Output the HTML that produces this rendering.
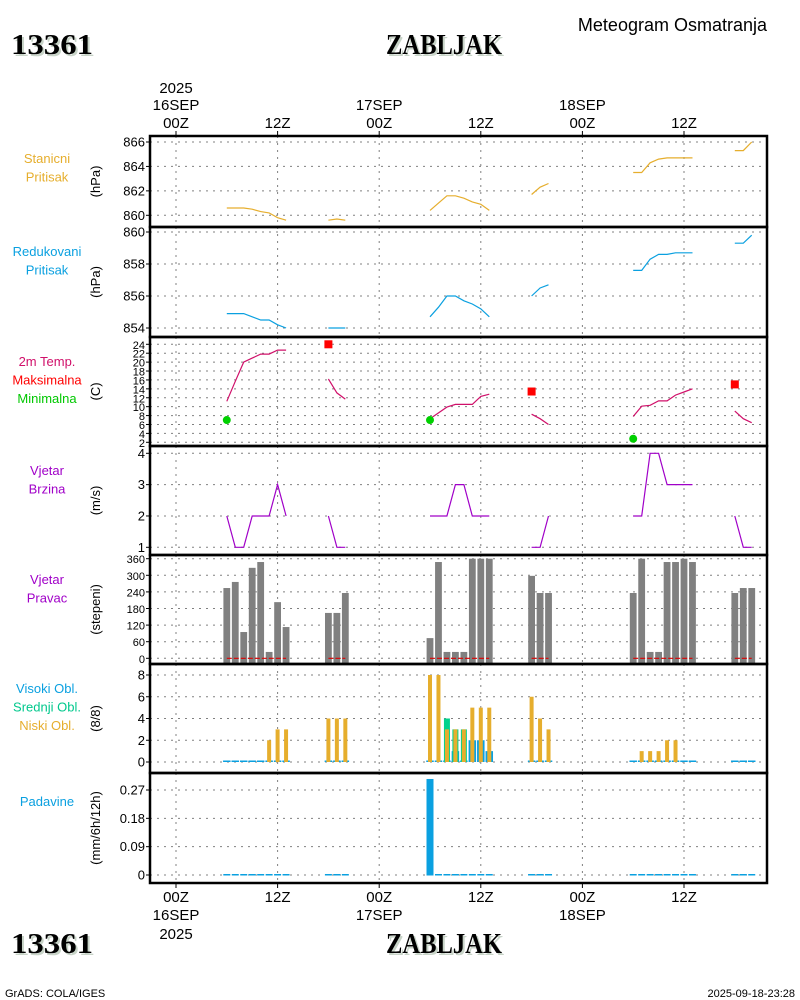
<!DOCTYPE html>
<html><head><meta charset="utf-8"><style>
body{margin:0;background:#fff}
svg{display:block;font-family:"Liberation Sans",sans-serif}
</style></head><body>
<svg id="chart" width="800" height="1000" viewBox="0 0 800 1000">
<g id="static">
<text x="13" y="56" textLength="82" lengthAdjust="spacingAndGlyphs" font-family="Liberation Serif" font-weight="bold" font-size="28" fill="#c8d4c8">13361</text>
<text x="11" y="54" textLength="82" lengthAdjust="spacingAndGlyphs" font-family="Liberation Serif" font-weight="bold" font-size="28" fill="#000">13361</text>
<text x="388" y="56" textLength="116" lengthAdjust="spacingAndGlyphs" font-family="Liberation Serif" font-weight="bold" font-size="28" fill="#c8d4c8">ZABLJAK</text>
<text x="386" y="54" textLength="116" lengthAdjust="spacingAndGlyphs" font-family="Liberation Serif" font-weight="bold" font-size="28" fill="#000">ZABLJAK</text>
<text x="767" y="31" text-anchor="end" font-size="18" fill="#000">Meteogram Osmatranja</text>
<text x="13" y="955" textLength="82" lengthAdjust="spacingAndGlyphs" font-family="Liberation Serif" font-weight="bold" font-size="28" fill="#c8d4c8">13361</text>
<text x="11" y="953" textLength="82" lengthAdjust="spacingAndGlyphs" font-family="Liberation Serif" font-weight="bold" font-size="28" fill="#000">13361</text>
<text x="388" y="955" textLength="116" lengthAdjust="spacingAndGlyphs" font-family="Liberation Serif" font-weight="bold" font-size="28" fill="#c8d4c8">ZABLJAK</text>
<text x="386" y="953" textLength="116" lengthAdjust="spacingAndGlyphs" font-family="Liberation Serif" font-weight="bold" font-size="28" fill="#000">ZABLJAK</text>
<text x="5" y="997" font-size="11" fill="#000">GrADS: COLA/IGES</text>
<text x="795" y="997" text-anchor="end" font-size="11" fill="#000">2025-09-18-23:28</text>
</g>
</svg>
<script>
// ---- data ----
const hours = [6,7,8,9,10,11,12,13, 18,19,20, 30,31,32,33,34,35,36,37, 42,43,44, 54,55,56,57,58,59,60,61, 66,67,68];
const stnPres = [860.6,860.6,860.6,860.5,860.3,860.2,859.8,859.6, 859.6,859.7,859.6, 860.4,861.0,861.6,861.6,861.4,861.1,860.9,860.4, 861.7,862.3,862.6, 863.5,863.5,864.3,864.6,864.7,864.7,864.7,864.7, 865.3,865.3,866.0];
const redPres = [854.9,854.9,854.9,854.7,854.5,854.5,854.2,854.0, 854.0,854.0,854.0, 854.7,855.3,856.0,856.0,855.7,855.5,855.2,854.7, 856.0,856.5,856.7, 857.6,857.6,858.3,858.6,858.6,858.7,858.7,858.7, 859.3,859.3,859.8];
const temp = [11.2,15.7,20.0,20.9,21.8,21.8,22.7,22.7, 16.2,13.1,11.7, 7.3,8.6,9.9,10.5,10.5,10.5,12.3,12.8, 8.3,7.3,6.0, 7.8,10.1,10.3,11.3,11.3,12.6,13.3,14.0, 9.0,7.3,6.4];
const tmaxHours = [18,42,66];
const tmaxVals = [24,13.4,15];
const tminHours = [6,30,54];
const tminVals = [7,7,2.8];
const windSpd = [2,1,1,2,2,2,3,2, 2,1,1, 2,2,2,3,3,2,2,2, 1,1,2, 2,2,4,4,3,3,3,3, 2,1,1];
const windDir = [254,276,95,327,348,23,203,113, 164,164,236, 73,348,23,23,23,360,360,360, 298,236,236, 236,360,23,23,348,348,360,348, 236,254,254];
const cldHigh = [0,0,0,0,0,0,0,0, 0,0,0, 0,0,0,1,0,2,2,1, 0,0,0, 0,0,0,0,0,0,0,0, 0,0,0];
const cldMid  = [0,0,0,0,0,0,0,0, 0,0,0, 0,0,4,3,3,0,0,0, 0,0,0, 0,0,0,0,0,0,0,0, 0,0,0];
const cldLow  = [0,0,0,0,0,2,3,3, 4,4,4, 8,8,3,3,3,5,5,5, 6,4,3, 0,1,1,1,2,2,0,0, 0,0,0];
const precipHours = [30];
const precipVals = [0.305];
const stnTicks = [860,862,864,866];
const redTicks = [854,856,858,860];
const tempTicks = [2,4,6,8,10,12,14,16,18,20,22,24];
const spdTicks = [1,2,3,4];
const dirTicks = [0,60,120,180,240,300,360];
const cldTicks = [0,2,4,6,8];
const prcTicks = [0,0.09,0.18,0.27];
const timeTicks = [0,12,24,36,48,60];
const timeLabels = ["00Z","12Z","00Z","12Z","00Z","12Z"];
const dayLabels = {0:"16SEP",24:"17SEP",48:"18SEP"};

// ---- helpers ----
const NS="http://www.w3.org/2000/svg";
const svg=document.getElementById('chart');
function mk(tag,attrs,parent){const e=document.createElementNS(NS,tag);for(const k in attrs)e.setAttribute(k,attrs[k]);(parent||svg).appendChild(e);return e;}
const L=150,R=767;
const x=h=>176+h*101.6/12;
function lin(v0,y0,v1,y1){return v=>y0+(v-v0)*(y1-y0)/(v1-v0);}
const panels=[
 {top:136,bot:227,y:lin(860,215.3,866,142),ticks:stnTicks,fmt:v=>v,name:'station-pressure',unit:'(hPa)',labels:[['Stanicni','#e6ae2d'],['Pritisak','#e6ae2d']],ly:163},
 {top:227,bot:337,y:lin(854,328,860,232),ticks:redTicks,fmt:v=>v,name:'reduced-pressure',unit:'(hPa)',labels:[['Redukovani','#0aa0e0'],['Pritisak','#0aa0e0']],ly:256},
 {top:337,bot:446,y:lin(2,442.3,24,344.3),ticks:tempTicks,fmt:v=>v,name:'temperature',unit:'(C)',labels:[['2m Temp.','#d0106a'],['Maksimalna','#ff0000'],['Minimalna','#00c800']],ly:366,small:true},
 {top:446,bot:555,y:lin(1,547.3,4,453.3),ticks:spdTicks,fmt:v=>v,name:'wind-speed',unit:'(m/s)',labels:[['Vjetar','#a000c8'],['Brzina','#a000c8']],ly:475},
 {top:555,bot:664,y:lin(0,658.3,360,558.7),ticks:dirTicks,fmt:v=>v,name:'wind-direction',unit:'(stepeni)',labels:[['Vjetar','#a000c8'],['Pravac','#a000c8']],ly:584,small:true},
 {top:664,bot:773,y:lin(0,762,8,675),ticks:cldTicks,fmt:v=>v,name:'cloud-cover',unit:'(8/8)',labels:[['Visoki Obl.','#0aa0e0'],['Srednji Obl.','#00c88c'],['Niski Obl.','#e6ae2d']],ly:693},
 {top:773,bot:883,y:lin(0,875,0.27,790),ticks:prcTicks,fmt:v=>v===0?'0':v.toFixed(2),name:'precipitation',unit:'(mm/6h/12h)',labels:[['Padavine','#0aa0e0']],ly:806}
];

// grids, ticks, labels
panels.forEach((p,i)=>{
  const g=mk('g',{});
  
  
  p.ticks.forEach(t=>{
    const yy=p.y(t);
    const ln=mk('line',{x1:L,x2:R,y1:yy,y2:yy,stroke:'#808080','stroke-dasharray':'2,5','stroke-width':1},g);
    
    
    const tk=mk('line',{x1:L-4,x2:L,y1:yy,y2:yy,stroke:'#000'},g);
    
    
    const tx=mk('text',{x:L-5,y:yy+4.5,'text-anchor':'end','font-size':p.small?11:13,fill:'#000'},g);
    tx.textContent=p.fmt(t);
    
    
  });
  timeTicks.forEach(h=>{
    const vl=mk('line',{x1:x(h),x2:x(h),y1:p.top,y2:p.bot,stroke:'#808080','stroke-dasharray':'2,5'},g);
    
    
  });
  const cy=(p.top+p.bot)/2;
  const u=mk('text',{x:0,y:0,'text-anchor':'middle','font-size':13,fill:'#000',transform:`translate(100,${cy}) rotate(-90)`},g);
  u.textContent=p.unit;
  
  
  p.labels.forEach((lb,j)=>{
    const t=mk('text',{x:47,y:p.ly+j*18.5,'text-anchor':'middle','font-size':13,fill:lb[1]},g);
    t.textContent=lb[0];
    
    
  });
});

// time axes
timeTicks.forEach((h,i)=>{
  const t1=mk('line',{x1:x(h),x2:x(h),y1:131,y2:136,stroke:'#000'});
  
  
  const t2=mk('line',{x1:x(h),x2:x(h),y1:883,y2:888,stroke:'#000'});
  
  
  const a=mk('text',{x:x(h),y:128,'text-anchor':'middle','font-size':15,fill:'#000'});
  a.textContent=timeLabels[i];
  
  
  const b=mk('text',{x:x(h),y:902,'text-anchor':'middle','font-size':15,fill:'#000'});
  b.textContent=timeLabels[i];
  
  
  if(dayLabels[h]){
    const d=mk('text',{x:x(h),y:110,'text-anchor':'middle','font-size':15,fill:'#000'});
    d.textContent=dayLabels[h];
    
    
    const e=mk('text',{x:x(h),y:920,'text-anchor':'middle','font-size':15,fill:'#000'});
    e.textContent=dayLabels[h];
    
    
  }
});
const y1=mk('text',{x:x(0),y:93,'text-anchor':'middle','font-size':15,fill:'#000'});y1.textContent='2025';


const y2=mk('text',{x:x(0),y:939,'text-anchor':'middle','font-size':15,fill:'#000'});y2.textContent='2025';



// line series with gaps
function segLine(vals,p,color,name){
  let pts=[];
  const flush=()=>{if(pts.length>1){const pl=mk('polyline',{points:pts.join(' '),fill:'none',stroke:color,'stroke-width':1.2});
    
    }pts=[];};
  hours.forEach((h,i)=>{
    if(i>0 && h-hours[i-1]>1) flush();
    pts.push(x(h).toFixed(1)+','+p.y(vals[i]).toFixed(1));
  });
  flush();
}
segLine(stnPres,panels[0],'#e6ae2d','station-pressure-line');
segLine(redPres,panels[1],'#0aa0e0','reduced-pressure-line');
segLine(temp,panels[2],'#d0106a','temperature-line');
segLine(windSpd,panels[3],'#a000c8','wind-speed-line');
tmaxHours.forEach((h,i)=>{
  const r=mk('rect',{x:x(h)-4,y:panels[2].y(tmaxVals[i])-4,width:8,height:8,fill:'#ff0000'});
  
  
});
tminHours.forEach((h,i)=>{
  const c=mk('circle',{cx:x(h),cy:panels[2].y(tminVals[i]),r:4,fill:'#00d000'});
  
  
});

// wind direction bars
const pd=panels[4];
hours.forEach((h,i)=>{
  const yt=pd.y(windDir[i]);
  const b=mk('rect',{x:x(h)-3.4,y:yt,width:6.8,height:pd.bot-yt,fill:'#808080'});
  
  
});
{let s=null;hours.forEach((h,i)=>{
  if(s===null)s=h;
  if(i===hours.length-1||hours[i+1]-h>1){
    const ln=mk('line',{x1:x(s),x2:x(h),y1:pd.y(0),y2:pd.y(0),stroke:'#dd0000','stroke-width':1.2,'stroke-dasharray':'5,2'});
    
    
    s=null;}
});}

// cloud bars
const pc=panels[5];
function cbar(h,v,w,color,name){
  const y0=pc.y(0),yt=v>0?pc.y(v):y0-1.5;
  const b=mk('rect',{x:x(h)-w/2,y:yt,width:w,height:y0-yt,fill:color});
  
  
}
hours.forEach((h,i)=>{
  cbar(h,cldHigh[i],7.5,'#0aa0e0','high-cloud-bar');
  if(cldMid[i]>0) cbar(h,cldMid[i],6,'#00d28c','mid-cloud-bar');
  if(cldLow[i]>0) cbar(h,cldLow[i],4,'#e6ae2d','low-cloud-bar');
});

// precipitation
const pp=panels[6];
hours.forEach(h=>{
  const l=mk('rect',{x:x(h)-3.5,y:pp.y(0)-1,width:7,height:1.5,fill:'#0aa0e0'});
  
  
});
precipHours.forEach((h,i)=>{
  const yt=pp.y(precipVals[i]);
  const b=mk('rect',{x:x(h)-3.5,y:yt,width:7,height:pp.y(0)-yt,fill:'#0aa0e0'});
  
  
});

// frames
panels.forEach(p=>{
  const f=mk('rect',{x:L,y:p.top,width:R-L,height:p.bot-p.top,fill:'none',stroke:'#000','stroke-width':2.5});
  
  
});
</script>
</body></html>
